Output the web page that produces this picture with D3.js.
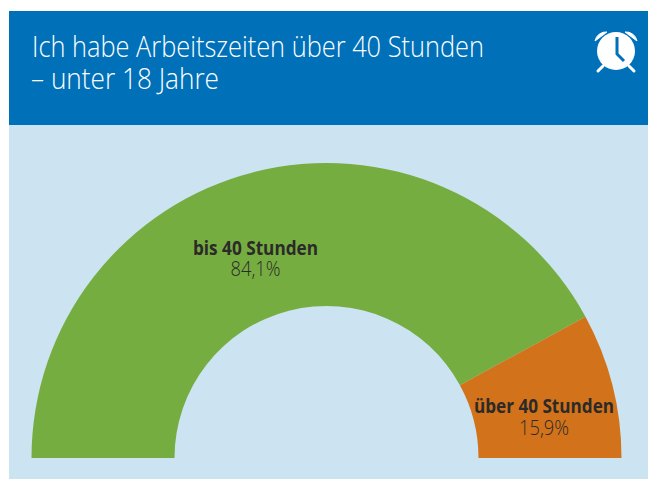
<!DOCTYPE html>
<html><head><meta charset="utf-8">
<script src="https://cdn.jsdelivr.net/npm/d3@7"></script>
<style>html,body{margin:0;padding:0;background:#fff}svg{display:block}
text{font-family:"Open Sans",sans-serif}</style>
</head><body><svg id="c" width="648" height="479"></svg>
<script>
const titleLines = ["Ich habe Arbeitszeiten über 40 Stunden", "– unter 18 Jahre"];
const categories = ["bis 40 Stunden", "über 40 Stunden"];
const values = [84.1, 15.9];
const valueLabels = ["84,1%", "15,9%"];
const colors = ["#76ad41", "#d2721b"];

const svg = d3.select("#c");
svg.append("rect").attr("x",9).attr("y",11).attr("width",639).attr("height",468).attr("fill","#cce3f1");
svg.append("rect").attr("x",9).attr("y",11).attr("width",639).attr("height",114).attr("fill","#0071b9");

const titleWidths=[452,188];
svg.selectAll("text.title").data(titleLines).join("text").attr("class","title")
  .attr("x",(d,i)=>i?31:32).attr("y",(d,i)=>57+i*32)
  .attr("font-size",30).attr("font-weight",300).attr("fill","#fff")
  .attr("textLength",(d,i)=>titleWidths[i]).attr("lengthAdjust","spacingAndGlyphs").text(d=>d);

const cx=326.5, cy=458, R=295, r=152;
const pie=d3.pie().sort(null).startAngle(-Math.PI/2).endAngle(Math.PI/2);
const arc=d3.arc().innerRadius(r).outerRadius(R);
const g=svg.append("g").attr("transform",`translate(${cx},${cy})`);
g.selectAll("path").data(pie(values)).join("path").attr("d",arc).attr("fill",(d,i)=>colors[i]);

const labelPos=[[255.5,254.5],[544,413]];
const nameWidths=[125,140];
const lab=svg.append("g").attr("text-anchor","middle").attr("fill","#2b2a29");
categories.forEach((c,i)=>{
  lab.append("text").attr("x",labelPos[i][0]).attr("y",labelPos[i][1]).attr("font-size",19.5).attr("font-weight","bold")
    .attr("textLength",nameWidths[i]).attr("lengthAdjust","spacingAndGlyphs").text(c);
  lab.append("text").attr("x",labelPos[i][0]).attr("y",labelPos[i][1]+21.5).attr("font-size",20).attr("font-weight",300)
    .attr("textLength",50).attr("lengthAdjust","spacingAndGlyphs").text(valueLabels[i]);
});

// alarm clock icon
const ic=svg.append("g").attr("transform","translate(616,51)");
ic.append("circle").attr("r",19).attr("fill","#fff");
ic.append("path").attr("d","M-21,-10 A11,11 0 0 1 -9,-19 Z M21,-10 A11,11 0 0 0 9,-19 Z").attr("fill","#fff").attr("stroke","#fff").attr("stroke-width",1);
ic.append("path").attr("d","M-13,15 L-18,20 M13,15 L18,20").attr("stroke","#fff").attr("stroke-width",3).attr("stroke-linecap","round");
ic.append("path").attr("d","M1,-14 L1,3 L8,10").attr("fill","none").attr("stroke","#0071b9").attr("stroke-width",3);
</script></body></html>
